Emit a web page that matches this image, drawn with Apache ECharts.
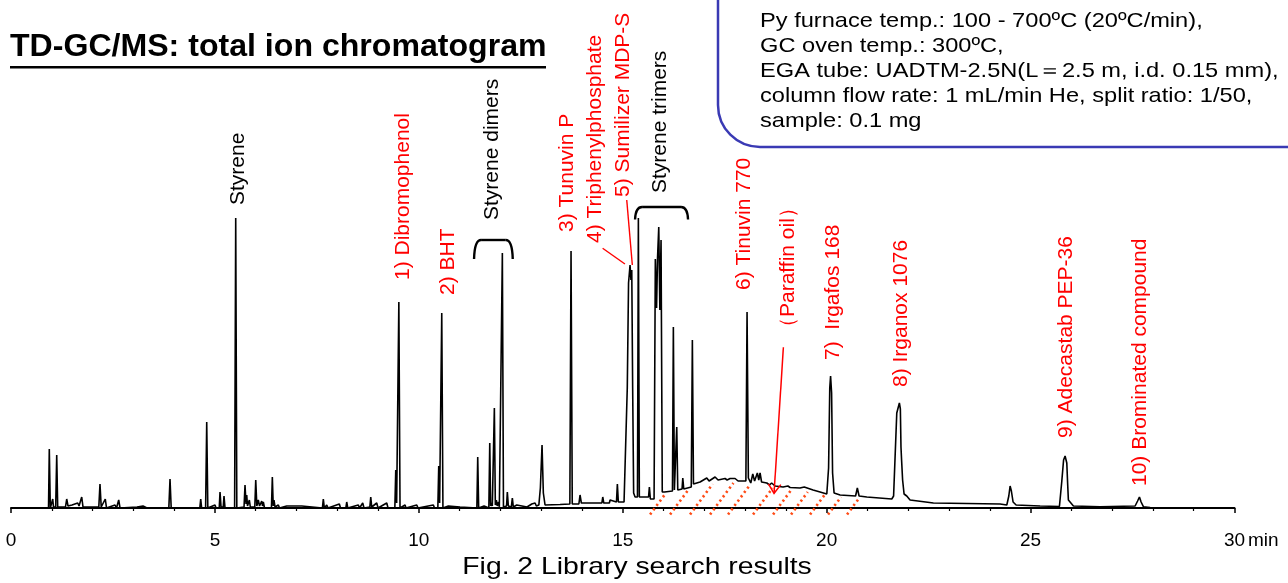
<!DOCTYPE html>
<html><head><meta charset="utf-8">
<script src="https://cdn.jsdelivr.net/npm/echarts@6/dist/echarts.min.js"></script>
<style>html,body{margin:0;padding:0;background:#fff}#c{width:1288px;height:583px}</style>
</head><body><div id="c"></div>
<script>
// ---- chromatogram trace, [time (min), intensity] ----
const traceA = [[0.042,0],[0.858,0],[0.920,0],[0.939,59],[0.964,0],[1.005,1],[1.023,9],[1.042,1],[1.096,1],[1.121,53],[1.145,1],[1.336,1],[1.366,9],[1.398,2],[1.496,3],[1.545,2],[1.636,5],[1.668,2],[1.734,11],[1.766,1],[2.153,1],[2.182,24],[2.212,1],[2.312,9],[2.342,0],[2.550,3],[2.587,0],[2.641,8],[2.673,0],[3.090,1],[3.237,2],[3.335,0],[3.870,0],[3.899,29],[3.928,0],[4.630,0],[4.652,9],[4.674,0],[4.772,0],[4.799,86],[4.826,0],[5.002,3],[5.027,0],[5.106,0],[5.125,16],[5.150,1],[5.204,1],[5.223,12],[5.248,0],[5.483,0],[5.510,290],[5.537,0]];
const traceB = [[5.714,1],[5.738,23],[5.763,4],[5.780,13],[5.799,2],[5.844,8],[5.868,1],[5.978,1],[6.001,28],[6.028,2],[6.064,8],[6.094,2],[6.148,7],[6.167,2],[6.187,6],[6.216,0],[6.386,0],[6.408,31],[6.430,2],[6.449,8],[6.474,1],[6.555,3],[6.584,0],[6.761,2],[6.793,0],[7.129,2],[7.160,0],[7.636,0],[7.658,9],[7.683,0],[7.742,3],[7.774,0],[8.051,4],[8.080,0],[8.210,0],[8.232,6],[8.257,0],[8.517,3],[8.546,0],[8.624,5],[8.656,0],[8.799,1],[8.821,11],[8.845,1],[8.968,5],[9.000,0],[9.213,5],[9.245,0],[9.412,0],[9.434,38],[9.456,5],[9.485,5],[9.510,206],[9.539,0],[9.662,3],[9.686,0],[9.949,3],[9.980,0],[10.356,3],[10.385,0],[10.466,0],[10.488,42],[10.510,5],[10.537,5],[10.562,195],[10.591,0]];
const traceC = [[10.724,2],[10.753,0],[11.010,1],[11.035,0],[11.423,0],[11.444,51],[11.467,0],[11.599,2],[11.624,0],[11.717,0],[11.739,65],[11.761,2],[11.783,5],[11.802,2],[11.829,2],[11.852,100],[11.876,3],[11.901,8],[11.923,2],[11.954,6],[11.974,1],[12.023,1],[12.048,255],[12.075,1],[12.114,3],[12.151,2],[12.170,16],[12.195,2],[12.236,4],[12.268,1],[12.293,10],[12.317,1],[12.401,3],[12.433,1],[12.653,1],[12.769,4],[12.800,2],[12.850,5],[12.882,2],[12.906,4],[12.943,3],[12.980,20],[13.021,63],[13.053,15],[13.095,3],[13.463,3.5],[13.703,4],[13.732,257],[13.762,4],[13.924,4],[13.953,13],[13.985,5],[14.198,5],[14.488,5],[14.510,11],[14.534,5],[14.672,5],[14.689,8],[14.713,6],[14.846,6],[14.868,24],[14.892,6],[15.032,6],[15.081,7],[15.111,120],[15.142,225],[15.179,243],[15.201,228],[15.221,238],[15.243,120],[15.267,15],[15.302,11],[15.361,11],[15.383,290],[15.407,11]];
const traceD = [[15.523,11],[15.633,11],[15.653,21],[15.677,9],[15.768,9],[15.799,249],[15.829,200],[15.853,250],[15.883,281],[15.910,198],[15.939,268],[15.969,16],[15.996,18],[16.025,16],[16.219,17],[16.241,181],[16.266,18],[16.302,18],[16.324,81],[16.349,18],[16.454,19],[16.472,30],[16.496,19],[16.680,21],[16.707,168],[16.734,24],[16.896,26],[17.060,30],[17.117,27],[17.264,31],[17.337,28],[17.509,29.5],[17.559,28],[17.632,29.5],[17.681,28],[17.754,29.5],[17.828,27],[18.019,27],[18.048,196],[18.080,30],[18.139,25],[18.188,34],[18.233,27],[18.300,35],[18.335,28],[18.367,35],[18.404,26],[18.532,25],[18.600,23],[18.650,25],[18.735,22],[18.931,21],[19.050,22],[19.103,20.5],[19.348,20],[19.450,21],[19.667,18],[19.838,16],[20.003,14],[20.047,40],[20.076,120],[20.096,132],[20.121,115],[20.145,35],[20.182,15],[20.329,13],[20.709,12],[20.752,20],[20.795,12],[20.984,11]];
const traceE = [[21.597,9],[21.641,12],[21.719,95],[21.783,105],[21.807,99],[21.822,61],[21.837,48],[21.862,28],[21.898,14],[21.964,12],[22.045,8],[22.617,5],[24.252,4],[24.417,3],[24.466,12],[24.498,22],[24.529,17],[24.571,6],[24.645,3],[25.233,2],[25.707,1.5],[25.766,27],[25.809,48],[25.846,52],[25.888,45],[25.908,25],[25.927,8],[26.050,2],[26.704,1.3],[27.563,2],[27.624,7],[27.669,11],[27.710,6],[27.766,1.3],[27.931,0.5],[30,0]];

// ---- peak annotations ----
const labelTexts = ['Styrene','1) Dibromophenol','2) BHT','Styrene dimers','3) Tunuvin P','4) Triphenylphosphate','5) Sumilizer MDP-S','Styrene trimers','6) Tinuvin 770','（Paraffin oil）','7)  Irgafos 168','8) Irganox 1076','9) Adecastab PEP-36','10) Brominated compound'];
const labelTimes = [5.567, 9.613, 10.716, 11.788, 13.627, 14.321, 15.000, 15.915, 17.990, 19.054, 20.157, 21.825, 25.871, 27.685];
const labelBottoms = [303, 228, 213, 288, 276, 265, 311, 315, 218, 170, 148, 121, 70, 22];
const labelIsRed = [0,1,1,0,1,1,1,0,1,1,1,1,1,1];

// brackets over styrene dimers / trimers
const bracketLeft = [11.354, 15.302];
const bracketRight = [12.303, 16.601];
const bracketTop = [268, 301];
const bracketEnd = [249, 288.5];

// leader lines for 4) and 5), arrow for paraffin oil
const leaderFrom = [[14.507, 259.7], [15.098, 308]];
const leaderTo = [[15.054, 244], [15.235, 243]];
const arrowFrom = [18.939, 160.7];
const arrowTip = [18.710, 14.7];

// dotted hatch under the paraffin oil hump
const hatchStart = [15.670, 16.160, 16.650, 17.141, 17.582, 18.195, 18.686, 19.127, 19.593, 20.034, 20.500];
const hatchTop = [13, 17, 24, 25, 23, 20, 18, 16, 13, 11, 9];

const xTickStep = 5;
const Y_MIN = -6.5, Y_MAX = 408;

const FONT = '"Liberation Sans", Arial, Helvetica, sans-serif';
const RED = '#ff0000';

const trace = traceA.concat(traceB, traceC, traceD, traceE);

const chart = echarts.init(document.getElementById('c'), null, {renderer: 'canvas'});

const option = {
  animation: false,
  backgroundColor: '#fff',
  grid: {left: 11, right: 53.5, top: 100, bottom: 68.5, containLabel: false},
  xAxis: {
    type: 'value', min: 0, max: 30, interval: xTickStep,
    axisLine: {show: true, lineStyle: {color: '#000', width: 2}},
    axisTick: {show: true, length: 5, lineStyle: {color: '#000', width: 1.5}},
    minorTick: {show: true, splitNumber: 5, length: 3, lineStyle: {color: '#000', width: 1.2}},
    splitLine: {show: false},
    minorSplitLine: {show: false},
    axisLabel: {color: '#000', fontSize: 19, fontFamily: FONT, margin: 17,
      formatter: v => String(v)}
  },
  yAxis: {type: 'value', min: Y_MIN, max: Y_MAX, show: false, splitLine: {show: false}},
  series: [
    {
      type: 'custom', name: 'hatch', clip: false, z: 1,
      data: hatchStart.map((t, i) => [t, hatchTop[i]]),
      renderItem: (params, api) => {
        const p0 = api.coord([api.value(0), Y_MIN]);
        const py = api.coord([api.value(0), api.value(1)])[1];
        const dy = p0[1] - py;
        return {type: 'line', shape: {x1: p0[0], y1: p0[1], x2: p0[0] + 0.74 * dy, y2: py},
          style: {stroke: '#ff4a14', lineWidth: 2.6, lineDash: [2.2, 3.2]}};
      }
    },
    {
      type: 'line', name: 'TIC', data: trace, showSymbol: false, symbol: 'none', z: 3,
      lineStyle: {color: '#000', width: 1.6}
    },
    {
      type: 'custom', name: 'labels', clip: false, z: 5,
      data: labelTimes.map((t, i) => [t, labelBottoms[i]]),
      renderItem: (params, api) => {
        const p = api.coord([api.value(0), api.value(1)]);
        const i = params.dataIndex;
        return {type: 'text', x: p[0], y: p[1], rotation: Math.PI / 2,
          style: {text: labelTexts[i], fill: labelIsRed[i] ? RED : '#000',
            font: '21px ' + FONT, align: 'left', verticalAlign: 'middle'}};
      }
    },
    {
      type: 'custom', name: 'brackets', clip: false, z: 5,
      data: bracketLeft.map((t, i) => [t, bracketRight[i], bracketTop[i], bracketEnd[i]]),
      renderItem: (params, api) => {
        const a = api.coord([api.value(0), api.value(3)]);
        const b = api.coord([api.value(1), api.value(2)]);
        const x0 = a[0], x1 = b[0], yt = b[1], yb = a[1];
        const st = {stroke: '#000', lineWidth: 2.4, fill: null};
        return {type: 'group', children: [
          {type: 'bezierCurve', shape: {x1: x0, y1: yb, cpx1: x0 + 0.5, cpy1: yt, x2: x0 + 7, y2: yt}, style: st},
          {type: 'line', shape: {x1: x0 + 7, y1: yt, x2: x1 - 7, y2: yt}, style: st},
          {type: 'bezierCurve', shape: {x1: x1 - 7, y1: yt, cpx1: x1 - 0.5, cpy1: yt, x2: x1, y2: yb}, style: st}
        ]};
      }
    },
    {
      type: 'custom', name: 'leaders', clip: false, z: 5,
      data: leaderFrom.map((f, i) => [f[0], f[1], leaderTo[i][0], leaderTo[i][1]]),
      renderItem: (params, api) => {
        const a = api.coord([api.value(0), api.value(1)]);
        const b = api.coord([api.value(2), api.value(3)]);
        return {type: 'line', shape: {x1: a[0], y1: a[1], x2: b[0], y2: b[1]},
          style: {stroke: RED, lineWidth: 1.4}};
      }
    },
    {
      type: 'custom', name: 'arrow', clip: false, z: 6,
      data: [[arrowFrom[0], arrowFrom[1], arrowTip[0], arrowTip[1]]],
      renderItem: (params, api) => {
        const s = api.coord([api.value(0), api.value(1)]);
        const p = api.coord([api.value(2), api.value(3)]);
        let ux = s[0] - p[0], uy = s[1] - p[1];
        const L = Math.hypot(ux, uy); ux /= L; uy /= L;
        const ang = 0.6, len = 11;
        const w1 = [p[0] + len * (ux * Math.cos(ang) - uy * Math.sin(ang)), p[1] + len * (ux * Math.sin(ang) + uy * Math.cos(ang))];
        const w2 = [p[0] + len * (ux * Math.cos(-ang) - uy * Math.sin(-ang)), p[1] + len * (ux * Math.sin(-ang) + uy * Math.cos(-ang))];
        const st = {stroke: RED, lineWidth: 1.5, fill: null};
        return {type: 'group', children: [
          {type: 'line', shape: {x1: s[0], y1: s[1], x2: p[0], y2: p[1]}, style: st},
          {type: 'polyline', shape: {points: [w1, p, w2]}, style: st}
        ]};
      }
    }
  ],
  graphic: [
    {type: 'text', x: 10, y: 32, z: 10,
      style: {text: 'TD-GC/MS: total ion chromatogram', font: 'bold 31px ' + FONT, fill: '#000', align: 'left', verticalAlign: 'top'},
      scaleX: 1.035},
    {type: 'rect', z: 10, shape: {x: 10, y: 66, width: 536, height: 2.5}, style: {fill: '#000'}},
    {type: 'rect', z: 9, shape: {x: 718, y: -60, width: 640, height: 207, r: 42},
      style: {fill: 'rgba(0,0,0,0)', stroke: '#3a3ab4', lineWidth: 2.5}},
    {type: 'text', x: 760, y: 9, z: 10, scaleX: 1.125,
      style: {text: 'Py furnace temp.: 100 - 700ºC (20ºC/min),\nGC oven temp.: 300ºC,\nEGA tube: UADTM-2.5N(L＝2.5 m, i.d. 0.15 mm),\ncolumn flow rate: 1 mL/min He, split ratio: 1/50,\nsample: 0.1 mg',
        font: '21px ' + FONT, lineHeight: 25, fill: '#000', align: 'left', verticalAlign: 'top'}},
    {type: 'text', x: 1248, y: 541, z: 10,
      style: {text: 'min', font: '19px ' + FONT, fill: '#000', align: 'left', verticalAlign: 'middle'}},
    {type: 'text', x: 637, y: 567, z: 10, scaleX: 1.18,
      style: {text: 'Fig. 2 Library search results', font: '24px ' + FONT, fill: '#000', align: 'center', verticalAlign: 'middle'}}
  ]
};
chart.setOption(option);
</script>
</body></html>
